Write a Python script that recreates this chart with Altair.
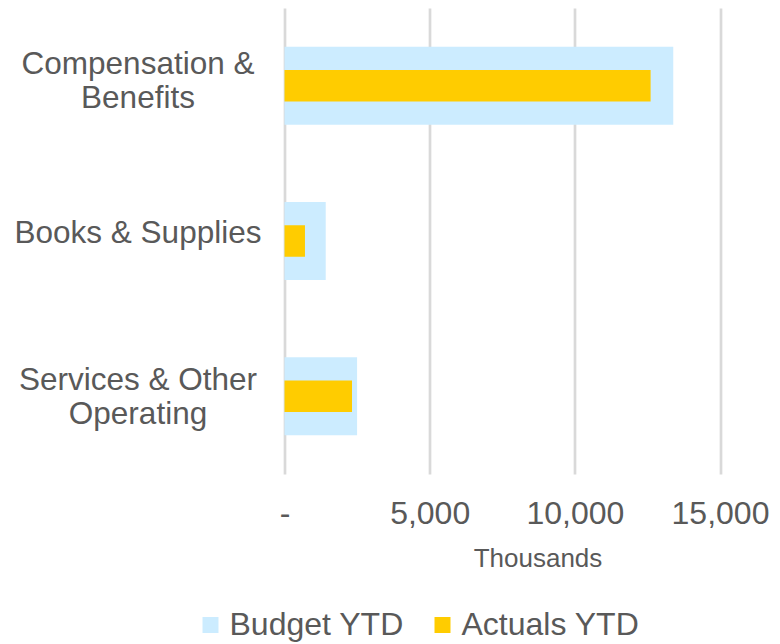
import altair as alt
import pandas as pd

categories = ["Compensation & Benefits", "Books & Supplies", "Services & Other Operating"]
budget_ytd = [13390, 1420, 2500]
actuals_ytd = [12610, 705, 2325]
series_names = ["Budget YTD", "Actuals YTD"]
series_colors = ["#CCECFF", "#FFCC00"]
x_ticks = [0, 5000, 10000, 15000]

rows = []
for c, b, a in zip(categories, budget_ytd, actuals_ytd):
    rows.append({"category": c, "series": "Budget YTD", "value": b})
    rows.append({"category": c, "series": "Actuals YTD", "value": a})
df = pd.DataFrame(rows)

FONT = "Liberation Sans"
TXT = "#595959"

label_expr = (
    "datum.label == 'Compensation & Benefits' ? ['Compensation &', 'Benefits'] : "
    "datum.label == 'Services & Other Operating' ? ['Services & Other', 'Operating'] : datum.label"
)

x_enc = alt.X(
    "value:Q",
    scale=alt.Scale(domain=[0, 15000], nice=False, zero=True),
    axis=alt.Axis(
        values=x_ticks,
        labelExpr="datum.value == 0 ? '-' : format(datum.value, ',')",
        title="Thousands",
        titleFont=FONT,
        titleFontSize=26,
        titleFontWeight="normal",
        titleColor=TXT,
        titleX=253,
        titleY=71,
        titleAnchor="start",
        titleAlign="center",
        titleBaseline="top",
        labelFont=FONT,
        labelFontSize=32,
        labelColor=TXT,
        labelPadding=24,
        ticks=False,
        tickSize=0,
        domain=False,
        grid=True,
        gridColor="#D9D9D9",
        gridWidth=2.7,
        labelFlush=False,
    ),
)

y_enc = alt.Y(
    "category:N",
    sort=categories,
    scale=alt.Scale(paddingInner=0, paddingOuter=0),
    axis=alt.Axis(
        title=None,
        labelExpr=label_expr,
        labelFont=FONT,
        labelFontSize=31.5,
        labelColor=TXT,
        labelAlign="center",
        labelBaseline="middle",
        labelLineHeight=34,
        labelPadding=147,
        labelOffset={
            "condition": [
                {"test": "datum.value == 'Books & Supplies'", "value": -7},
                {"test": "datum.value == 'Services & Other Operating'", "value": -15},
            ],
            "value": -21,
        },
        labelLimit=400,
        ticks=False,
        tickSize=0,
        domain=False,
        grid=False,
    ),
)

color_enc = alt.Color(
    "series:N",
    scale=alt.Scale(domain=series_names, range=series_colors),
    legend=alt.Legend(
        title=None,
        orient="none",
        direction="horizontal",
        legendX=-90,
        legendY=601,
        symbolType="square",
        symbolSize=256,
        symbolStrokeWidth=0,
        labelFont=FONT,
        labelFontSize=32,
        labelColor=TXT,
        labelOffset=3,
        labelLimit=400,
        columnPadding=22,
        padding=0,
    ),
)

budget = alt.Chart(df).transform_filter("datum.series == 'Budget YTD'").mark_bar(size=78).encode(
    x=x_enc, y=y_enc, color=color_enc
)
actual = alt.Chart(df).transform_filter("datum.series == 'Actuals YTD'").mark_bar(size=31.5).encode(
    x=x_enc, y=y_enc, color=color_enc
)

chart = (
    alt.layer(budget, actual)
    .properties(
        width=435.5,
        height=466,
        autosize=alt.AutoSizeParams(type="none"),
        padding={"left": 276.5, "top": 0, "right": 52, "bottom": 172},
        background="white",
    )
    .configure_view(stroke=None)
)

chart.save("out.html", embed_options={"renderer": "svg", "actions": False})
